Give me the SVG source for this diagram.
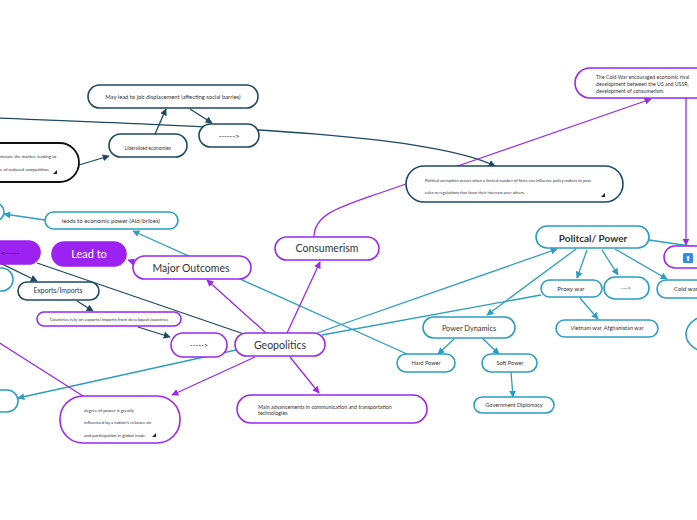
<svg xmlns="http://www.w3.org/2000/svg" width="697" height="520" viewBox="0 0 697 520">
<defs>
<style>
text{font-family:"Lato","Noto Sans",sans-serif;fill:#333}
.c{text-anchor:middle}
.p{fill:#fff;stroke:#9b27f0;stroke-width:1.6}
.pf{fill:#9b22f0;stroke:#9b22f0;stroke-width:1.6}
.t{fill:#fff;stroke:#2b9ec2;stroke-width:1.6}
.d{fill:#fff;stroke:#1d4a60;stroke-width:1.6}
.k{fill:#fff;stroke:#111;stroke-width:1.8}
.lp{fill:none;stroke:#9b27f0;stroke-width:1.3}
.lt{fill:none;stroke:#2b9ec2;stroke-width:1.3}
.ld{fill:none;stroke:#1d4a60;stroke-width:1.3}
.ap{marker-end:url(#mp)}
.at{marker-end:url(#mt)}
.ad{marker-end:url(#md)}
.tri{fill:#222}
</style>
<marker id="mp" viewBox="0 0 10 10" refX="9" refY="5" markerWidth="7" markerHeight="7" markerUnits="userSpaceOnUse" orient="auto"><path d="M0,0L10,5L0,10z" fill="#9b27f0"/></marker>
<marker id="mt" viewBox="0 0 10 10" refX="9" refY="5" markerWidth="7" markerHeight="7" markerUnits="userSpaceOnUse" orient="auto"><path d="M0,0L10,5L0,10z" fill="#2b9ec2"/></marker>
<marker id="md" viewBox="0 0 10 10" refX="9" refY="5" markerWidth="7" markerHeight="7" markerUnits="userSpaceOnUse" orient="auto"><path d="M0,0L10,5L0,10z" fill="#1d4a60"/></marker>
</defs>
<rect width="697" height="520" fill="#fff"/>

<g id="connectors">
<path class="ld ad" d="M-5,118 C250,128 430,135 495,166"/>
<path class="ld ad" d="M79,165 L109,156"/>
<path class="ld ad" d="M155,134 L166,109"/>
<path class="ld ad" d="M190,109 L212,123"/>
<path class="lp ap" d="M314,237 C314,214 340,207 380,193 L651,99"/>
<path class="lp ap" d="M686,98 L686,245"/>
<path class="lt" d="M649,240 L697,247"/>
<path class="lt at" d="M587,250 L577,278"/>
<path class="lt at" d="M602,250 L618,275"/>
<path class="lt at" d="M615,249 L667,279"/>
<path class="lt at" d="M576,249 L487,315"/>
<path class="lt at" d="M317,333 L557,249"/>
<path class="lt" d="M322,335 L541,295"/>
<path class="lt at" d="M580,298 L598,319"/>
<path class="lt at" d="M454,339 L438,354"/>
<path class="lt at" d="M483,339 L499,354"/>
<path class="lt at" d="M511,372 L513,397"/>
<path class="lt at" d="M407,354 L133,231"/>
<path class="lt at" d="M45,220 L4,214"/>
<path class="lt at" d="M236,350 L18,398"/>
<path class="lp ap" d="M266,333 L207,280"/>
<path class="lp ap" d="M287,333 L320,262"/>
<path class="lp ap" d="M134,262 L128,260"/>
<path class="ld" d="M37,263 L244,334"/>
<path class="ld ad" d="M-2,262 L37,281"/>
<path class="ld ad" d="M77,301 L93,311"/>
<path class="ld ad" d="M138,327 L170,337"/>
<path class="lp ap" d="M255,357 L172,395"/>
<path class="lp" d="M-5,340 L83,396"/>
<path class="lp ap" d="M290,357 L319,393"/>
</g>

<g id="n-jobdisplacement"><rect class="d" x="88" y="85" width="170" height="23" rx="11.5"/><text class="c" x="173" y="99" font-size="5.8">May lead to job displacement (affecting social barries)</text></g>
<g id="n-liberalized"><rect class="d" x="109" y="134" width="78" height="23" rx="11.5"/><text class="c" x="148" y="149.7" font-size="4.8">Liberalized economies</text></g>
<g id="n-arrow1"><rect class="d" x="199" y="124" width="60" height="23" rx="11.5"/><text class="c" x="229" y="138.5" font-size="7.5">------&gt;</text></g>
<g id="n-monopoly"><rect class="k" x="-60" y="143" width="139" height="39" rx="19.5"/><text x="0" y="157.5" font-size="4.4">minate the market, leading to</text><text x="0" y="170.5" font-size="4.4">e of reduced competition.</text><path class="tri" d="M57,170 L57,174 L53,174z"/></g>
<g id="n-corruption"><rect class="d" x="406" y="166" width="217" height="36" rx="18"/><text x="425" y="182" font-size="4.05">Political corruption occurs when a limited number of firms can influence policy makers to pass</text><text x="425" y="194" font-size="4.05">rules or regulations that favor their interests over others.</text><path class="tri" d="M605,193 L605,197 L601,197z"/></g>
<g id="n-coldwartext"><rect class="p" x="575" y="68" width="160" height="30" rx="15"/><text x="596" y="78.5" font-size="5.2">The Cold War encouraged economic rival</text><text x="596" y="85.5" font-size="5.2">development between the US and USSR,</text><text x="596" y="92.5" font-size="5.2">development of consumerism.</text></g>
<g id="n-leadseconomic"><rect class="t" x="45" y="212" width="133" height="17" rx="8.5"/><text class="c" x="111" y="222.8" font-size="6">leads to economic power (Aid/bribes)</text></g>
<g id="n-left-teal1"><rect class="t" x="-40" y="203" width="44" height="18" rx="9"/></g>
<g id="n-leftarrow"><rect class="pf" x="-30" y="241" width="70" height="23" rx="11.5"/><text x="1" y="255.5" font-size="7.5" style="fill:#222">&lt;-----</text></g>
<g id="n-leadto"><rect class="pf" x="52" y="242" width="74" height="24" rx="12"/><text class="c" x="89" y="258" font-size="11" style="fill:#fff">Lead to</text></g>
<g id="n-majoroutcomes"><rect class="p" x="133" y="256" width="118" height="23" rx="11.5"/><text class="c" x="191" y="271.5" font-size="10.5">Major Outcomes</text></g>
<g id="n-left-teal2"><rect class="t" x="-40" y="268" width="53" height="23" rx="11.5"/></g>
<g id="n-exports"><rect class="d" x="18" y="282" width="81" height="18" rx="9"/><text class="c" x="58" y="293.3" font-size="6.8">Exports/Imports</text></g>
<g id="n-countries"><rect class="p" x="37" y="312" width="144" height="14" rx="7"/><text class="c" x="109" y="320.6" font-size="4.5">Countries rely on exports/imports from developed countries</text></g>
<g id="n-arrow2"><rect class="p" x="171" y="333" width="56" height="24" rx="12"/><text class="c" x="199" y="347.5" font-size="7.5">-----&gt;</text></g>
<g id="n-geopolitics"><rect class="p" x="235" y="333" width="90" height="23" rx="11.5"/><text class="c" x="280" y="348.5" font-size="10.5">Geopolitics</text></g>
<g id="n-consumerism"><rect class="p" x="275" y="237" width="104" height="23" rx="11.5"/><text class="c" x="327" y="252" font-size="10.5">Consumerism</text></g>
<g id="n-advancements"><rect class="p" x="237" y="395" width="190" height="28" rx="14"/><text x="258" y="409" font-size="5.3">Main advancements in communication and transportation</text><text x="258" y="414.7" font-size="5.3">technologies</text></g>
<g id="n-degree"><rect class="p" x="60" y="396" width="120" height="47" rx="23"/><text x="84" y="412" font-size="4.4">degree of power is greatly</text><text x="84" y="424" font-size="4.4">influenced by a nation's reliance on</text><text x="84" y="437" font-size="4.4">and participation in global trade.</text><path class="tri" d="M156,433 L156,437 L152,437z"/></g>
<g id="n-left-teal3"><rect class="t" x="-40" y="390" width="58" height="22" rx="11"/></g>
<g id="n-political"><rect class="t" x="536" y="226" width="113" height="22" rx="11"/><text class="c" x="593" y="241.5" font-size="10" font-weight="bold">Politcal/ Power</text></g>
<g id="n-up"><rect class="p" x="664" y="246" width="60" height="22" rx="11"/><rect x="683" y="253" width="10" height="10" rx="1.5" fill="#2a8ee6"/><text class="c" x="688" y="261" font-size="7" style="fill:#fff;font-family:'DejaVu Sans',sans-serif">⬆</text></g>
<g id="n-proxy"><rect class="t" x="541" y="280" width="61" height="17" rx="8.5"/><text class="c" x="571" y="291" font-size="6.3">Proxy war</text></g>
<g id="n-arrow3"><rect class="t" x="604" y="277" width="45" height="22" rx="11"/><text class="c" x="626" y="290" font-size="6">---&gt;</text></g>
<g id="n-coldwar"><rect class="t" x="657" y="280" width="70" height="18" rx="9"/><text x="674" y="291" font-size="6.1">Cold war</text></g>
<g id="n-powerdyn"><rect class="t" x="423" y="317" width="92" height="21" rx="10.5"/><text class="c" x="469" y="330.5" font-size="7.4">Power Dynamics</text></g>
<g id="n-vietnam"><rect class="t" x="556" y="320" width="102" height="17" rx="8.5"/><text class="c" x="607" y="330" font-size="5.6">Vietnam war, Afghanistan war</text></g>
<g id="n-circle"><ellipse class="t" cx="712" cy="334" rx="26" ry="19"/></g>
<g id="n-hard"><rect class="t" x="397" y="354" width="58" height="18" rx="9"/><text class="c" x="426" y="364.8" font-size="5.6">Hard Power</text></g>
<g id="n-soft"><rect class="t" x="482" y="354" width="55" height="18" rx="9"/><text class="c" x="510" y="364.8" font-size="5.6">Soft Power</text></g>
<g id="n-gov"><rect class="t" x="474" y="397" width="80" height="16" rx="8"/><text class="c" x="514" y="406.8" font-size="5.5">Government Diplomacy</text></g>
</svg>
